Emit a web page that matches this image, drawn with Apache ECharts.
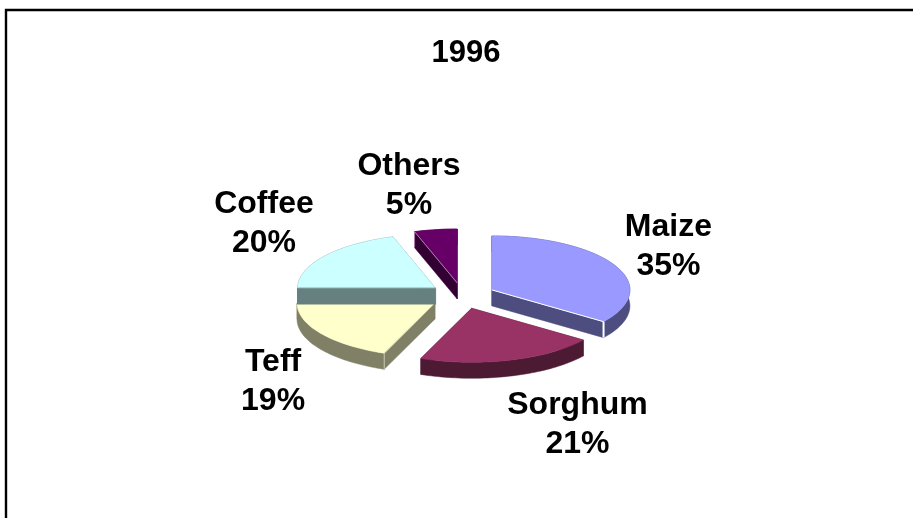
<!DOCTYPE html>
<html>
<head>
<meta charset="utf-8">
<style>html,body{margin:0;padding:0;background:#fff}#c{width:913px;height:518px}</style>
<script src="https://cdn.jsdelivr.net/npm/echarts@6/dist/echarts.min.js"></script>
</head>
<body>
<div id="c"></div>
<script>
// Data, clockwise from 12 o'clock
const chartTitle = '1996';
const categories = ['Maize', 'Sorghum', 'Teff', 'Coffee', 'Others'];
const values = [35, 21, 19, 20, 5];

// Styling
const faceColors = ['#9999FF', '#993366', '#FFFFCC', '#CCFFFF', '#660066'];
const wallColors = ['#4D4D80', '#4D1A33', '#808066', '#668080', '#330033'];
const edgeColors = ['#FFFFFF', '#4D1A33', '#C8C8B0', '#668080', '#B080B0'];
// Label centres, in pie-radius units (x right, y up)
const labelX = [1.493, 0.834, -1.372, -1.438, -0.387];
const labelY = [0.919, -2.386, -1.599, 1.327, 2.04];

const EXPLODE = 0.24;
const DEPTH_PX = 16;
const FONT = 'bold 32px "Liberation Sans", Arial, sans-serif';
const total = values.reduce((a, b) => a + b, 0);
const startShare = values.map((_, i) => values.slice(0, i).reduce((a, b) => a + b, 0) / total);

function renderSlice(params, api) {
  const i = params.dataIndex;
  const a0 = startShare[i] * Math.PI * 2;
  const a1 = a0 + api.value(0) / total * Math.PI * 2;
  const mid = (a0 + a1) / 2;
  const ox = EXPLODE * Math.sin(mid), oy = EXPLODE * Math.cos(mid);
  const pt = (a) => api.coord([ox + Math.sin(a), oy + Math.cos(a)]);
  const apex = api.coord([ox, oy]);
  const down = (p) => [p[0], p[1] + DEPTH_PX];

  const arc = [];
  const steps = Math.max(2, Math.ceil((a1 - a0) / (Math.PI / 120)));
  for (let s = 0; s <= steps; s++) arc.push(pt(a0 + (a1 - a0) * s / steps));

  const children = [];
  const poly = (points, fill) => children.push({
    type: 'polygon', shape: { points },
    style: { fill, stroke: fill, lineWidth: 0.5 }
  });
  const line = (p, q, width, color) => children.push({
    type: 'line', shape: { x1: p[0], y1: p[1], x2: q[0], y2: q[1] },
    style: { stroke: color, lineWidth: width }
  });

  // Extruded walls, then the top face
  poly(arc.concat(arc.slice().reverse().map(down)), wallColors[i]);
  const startP = arc[0], endP = arc[arc.length - 1];
  poly([apex, startP, down(startP), down(apex)], wallColors[i]);
  poly([apex, endP, down(endP), down(apex)], wallColors[i]);
  poly([apex].concat(arc), faceColors[i]);

  // Highlight on whichever straight edge faces the viewer
  const startVisible = a0 > Math.PI - 1e-6 && a0 < 2 * Math.PI;
  const endVisible = a1 > 1e-6 && a1 < Math.PI;
  if (startVisible) {
    line(apex, startP, 1, edgeColors[i]);
    line(startP, down(startP), 1, edgeColors[i]);
  }
  if (endVisible) {
    line(apex, endP, 1, edgeColors[i]);
    line(endP, down(endP), 2, edgeColors[i]);
  }

  // Label
  const c = api.coord([labelX[i], labelY[i]]);
  children.push({
    type: 'text', x: c[0], y: c[1],
    style: {
      text: categories[i] + '\n' + api.value(0) + '%',
      font: FONT, fill: '#000', align: 'center', verticalAlign: 'middle', lineHeight: 39
    }
  });
  return { type: 'group', children };
}

const chart = echarts.init(document.getElementById('c'), null, { renderer: 'canvas' });
chart.setOption({
  animation: false,
  backgroundColor: '#fff',
  title: {
    text: chartTitle, left: 461, top: 33, textAlign: 'center',
    textStyle: { fontFamily: '"Liberation Sans", Arial, sans-serif', fontWeight: 'bold', fontSize: 31, color: '#000' }
  },
  // 1 axis unit = one pie radius: 138 px across, 54 px in the foreshortened depth
  grid: { left: 48.4, width: 828, top: 133.8, height: 324 },
  xAxis: { type: 'value', min: -3, max: 3, show: false },
  yAxis: { type: 'value', min: -3, max: 3, show: false },
  graphic: [{
    type: 'polyline', silent: true,
    shape: { points: [[6, 518], [6, 10], [913, 10]] },
    style: { stroke: '#000', lineWidth: 2.4, fill: 'none' }
  }],
  series: [{
    type: 'custom',
    coordinateSystem: 'cartesian2d',
    renderItem: renderSlice,
    clip: false,
    data: values.map((v, i) => ({ name: categories[i], value: [v] })),
    encode: { x: -1, y: -1 }
  }]
});
</script>
</body>
</html>
